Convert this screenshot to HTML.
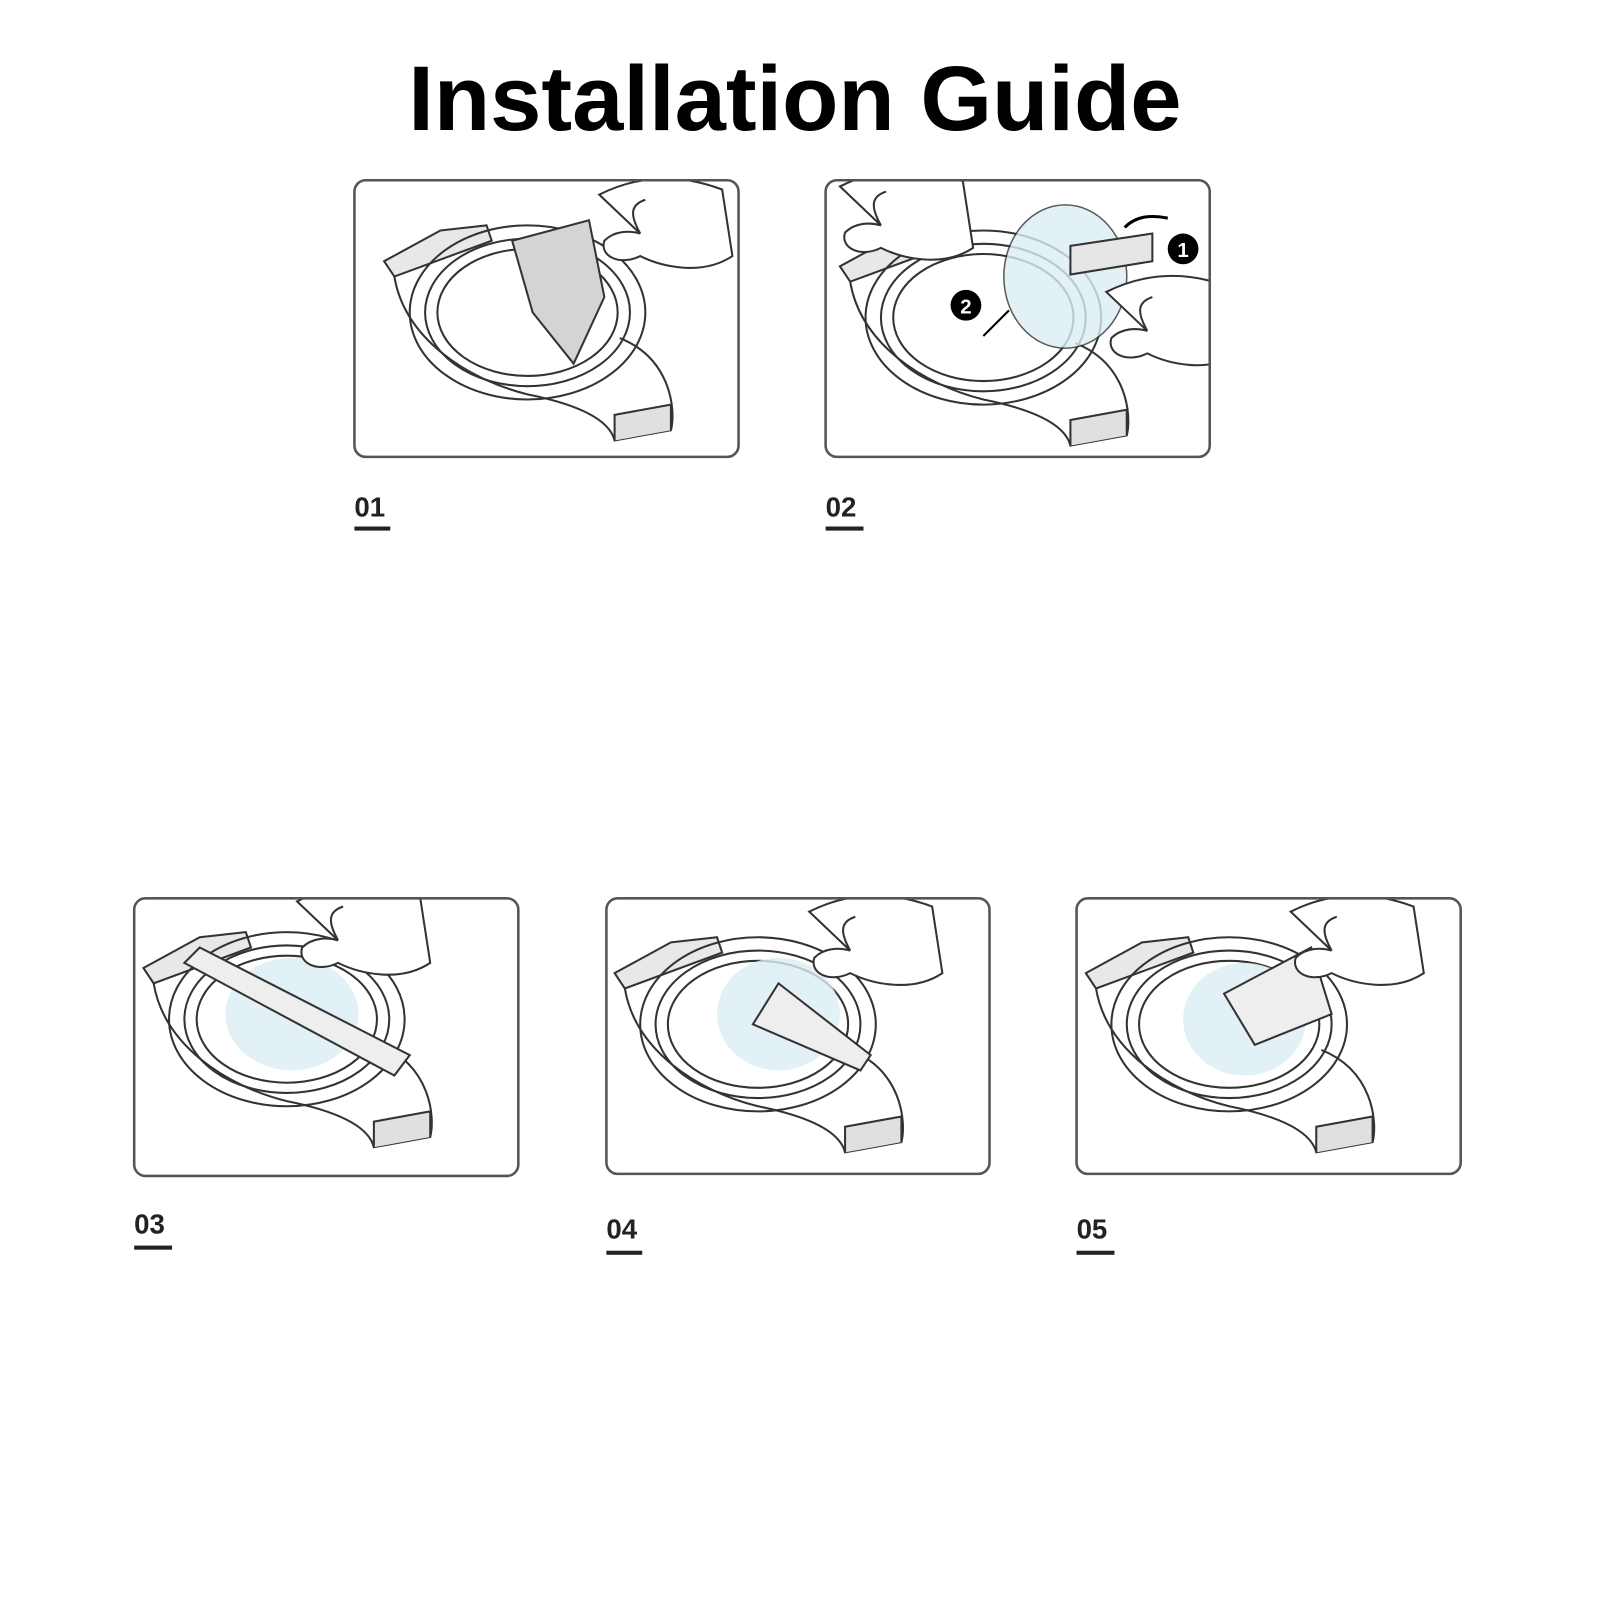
<!DOCTYPE html>
<html><head><meta charset="utf-8"><style>
html,body{margin:0;padding:0;background:#fff;}
svg{display:block}
</style></head><body>
<svg width="1600" height="1600" viewBox="0 0 1562 1562" xmlns="http://www.w3.org/2000/svg">
<defs>
<g id="watch" fill="none" stroke="#333" stroke-width="2">
  <path d="M-140,-55 L-85,-85 L-40,-90 L-35,-75 L-130,-40 Z" fill="#e8e8e8"/>
  <path d="M-130,-40 C-120,20 -60,60 0,75 C50,85 80,100 85,120 L140,110 C145,90 140,40 90,20" />
  <path d="M85,120 L85,95 L140,85 L140,110" fill="#e0e0e0"/>
  <ellipse cx="0" cy="-5" rx="115" ry="85"/>
  <ellipse cx="0" cy="-5" rx="100" ry="72"/>
  <ellipse cx="0" cy="-5" rx="88" ry="62"/>
</g>
<g id="hand" fill="#fff" stroke="#333" stroke-width="2">
  <path d="M0,0 C40,-20 80,-20 120,-5 L130,60 C100,80 60,70 40,60 C20,70 0,60 5,45 C15,35 30,35 40,38 Z"/>
  <path d="M40,38 C30,20 30,10 45,5"/>
</g>
<clipPath id="c1"><rect x="346" y="176" width="375" height="270" rx="11"/></clipPath>
<clipPath id="c2"><rect x="806" y="176" width="375" height="270" rx="11"/></clipPath>
<clipPath id="c3"><rect x="131" y="877" width="375" height="271" rx="11"/></clipPath>
<clipPath id="c4"><rect x="592" y="877" width="374" height="269" rx="11"/></clipPath>
<clipPath id="c5"><rect x="1051" y="877" width="375" height="269" rx="11"/></clipPath>
</defs>

<text x="776" y="127" text-anchor="middle" font-family="Liberation Sans, Arial, sans-serif" font-weight="bold" font-size="90" fill="#000">Installation Guide</text>

<!-- panel 1 -->
<g clip-path="url(#c1)">
<use href="#watch" x="515" y="310"/>
<path d="M500,235 L575,215 L590,290 L560,355 L520,305 Z" fill="#d4d4d4" stroke="#333" stroke-width="2"/>
<use href="#hand" x="585" y="190"/>
</g>
<!-- panel 2 -->
<g clip-path="url(#c2)">
<use href="#watch" x="960" y="315"/>
<ellipse cx="1040" cy="270" rx="60" ry="70" fill="#dbeef3" stroke="#333" stroke-width="1.5" opacity="0.8"/>
<path d="M1045,240 L1125,228 L1125,255 L1045,268 Z" fill="#e6e6e6" stroke="#333" stroke-width="2"/>
<circle cx="1155" cy="243" r="15" fill="#000"/>
<text x="1155" y="251" text-anchor="middle" font-family="Liberation Sans, sans-serif" font-weight="bold" font-size="20" fill="#fff">1</text>
<circle cx="943" cy="298" r="15" fill="#000"/>
<text x="943" y="306" text-anchor="middle" font-family="Liberation Sans, sans-serif" font-weight="bold" font-size="20" fill="#fff">2</text>
<path d="M1098,222 C1110,210 1125,210 1140,213" fill="none" stroke="#000" stroke-width="3"/>
<path d="M985,303 L960,328" stroke="#000" stroke-width="2"/>
<use href="#hand" x="820" y="182"/>
<use href="#hand" x="1080" y="285"/>
</g>
<!-- panel 3 -->
<g clip-path="url(#c3)">
<use href="#watch" x="280" y="1000"/>
<ellipse cx="285" cy="990" rx="65" ry="55" fill="#dbeef3" opacity="0.8"/>
<path d="M180,940 L195,925 L400,1030 L385,1050 Z" fill="#eee" stroke="#333" stroke-width="2"/>
<use href="#hand" x="290" y="880"/>
</g>
<!-- panel 4 -->
<g clip-path="url(#c4)">
<use href="#watch" x="740" y="1005"/>
<ellipse cx="760" cy="990" rx="60" ry="55" fill="#dbeef3" opacity="0.8"/>
<path d="M735,1000 L760,960 L850,1030 L840,1045 Z" fill="#eee" stroke="#333" stroke-width="2"/>
<use href="#hand" x="790" y="890"/>
</g>
<!-- panel 5 -->
<g clip-path="url(#c5)">
<use href="#watch" x="1200" y="1005"/>
<ellipse cx="1215" cy="995" rx="60" ry="55" fill="#dbeef3" opacity="0.8"/>
<path d="M1195,970 L1280,925 L1300,990 L1225,1020 Z" fill="#eee" stroke="#333" stroke-width="2"/>
<use href="#hand" x="1260" y="890"/>
</g>

<g fill="none" stroke="#555" stroke-width="2.5">
  <rect x="346" y="176" width="375" height="270" rx="11"/>
  <rect x="806" y="176" width="375" height="270" rx="11"/>
  <rect x="131" y="877" width="375" height="271" rx="11"/>
  <rect x="592" y="877" width="374" height="269" rx="11"/>
  <rect x="1051" y="877" width="375" height="269" rx="11"/>
</g>

<g font-family="Liberation Sans, Arial, sans-serif" font-weight="bold" font-size="27" fill="#222">
  <text x="346" y="504">01</text>
  <text x="806" y="504">02</text>
  <text x="131" y="1204">03</text>
  <text x="592" y="1209">04</text>
  <text x="1051" y="1209">05</text>
</g>
<g fill="#222">
  <rect x="346" y="514" width="35" height="4"/>
  <rect x="806" y="514" width="37" height="4"/>
  <rect x="131" y="1216" width="37" height="4"/>
  <rect x="592" y="1221" width="35" height="4"/>
  <rect x="1051" y="1221" width="37" height="4"/>
</g>
</svg>
</body></html>
